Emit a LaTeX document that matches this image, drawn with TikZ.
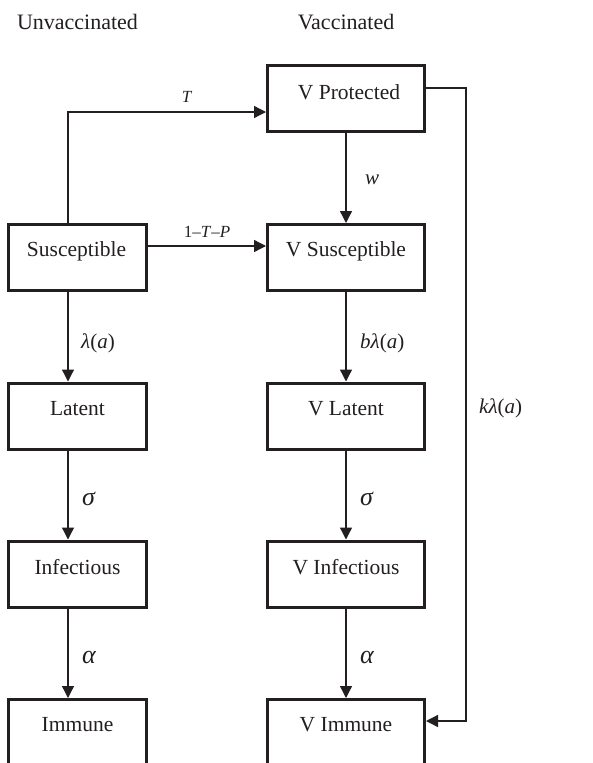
\documentclass[tikz,border=0pt]{standalone}
\usepackage{fontspec}
\setmainfont{Liberation Serif}
\usetikzlibrary{arrows.meta}
\definecolor{ink}{HTML}{231F20}
\begin{document}
\begin{tikzpicture}[x=1pt,y=-1pt,
  box/.style={draw=ink, line width=3pt, minimum width=#1, minimum height=66pt, inner sep=0pt},
  boxtext/.style={font=\fontsize{21.5}{24}\selectfont, text=ink, inner sep=0pt},
  head/.style={font=\fontsize{22}{24}\selectfont, text=ink, inner sep=0pt},
  small/.style={font=\fontsize{17}{20}\selectfont, text=ink, inner sep=0pt},
  greek/.style={font=\fontsize{21}{24}\selectfont, text=ink, inner sep=0pt, anchor=west},
  biggreek/.style={font=\fontsize{26}{28}\selectfont, text=ink, inner sep=0pt, anchor=west},
  arr/.style={draw=ink, line width=1.3pt, -{Triangle[length=12pt,width=12pt]}}]
\clip (0,0) rectangle (593,763);
\fill[white] (0,0) rectangle (593,763);

% headers
\node[head] (hU) at (77.5,22) {Unvaccinated};
\node[head] (hV) at (346,22) {Vaccinated};

% left column
\node[box=138pt] (S) at (77.5,257.5) {};
\node[box=138pt] (L) at (77.5,416) {};
\node[box=138pt] (I) at (77.5,574) {};
\node[box=138pt] (R) at (77.5,732.5) {};
% right column
\node[box=157pt] (VP) at (346,98.5) {};
\node[box=157pt] (VS) at (346,257.5) {};
\node[box=157pt] (VL) at (346,416) {};
\node[box=157pt] (VI) at (346,574) {};
\node[box=157pt] (VR) at (346,732.5) {};

% box texts
\node[boxtext] (tS) at (76.5,251) {Susceptible};
\node[boxtext] (tL) at (77.5,409) {Latent};
\node[boxtext] (tI) at (77.5,567) {Infectious};
\node[boxtext] (tR) at (77.5,725) {Immune};
\node[boxtext] (tVP) at (349,92) {V Protected};
\node[boxtext] (tVS) at (346,251) {V Susceptible};
\node[boxtext] (tVL) at (346,409) {V Latent};
\node[boxtext] (tVI) at (346,567) {V Infectious};
\node[boxtext] (tVR) at (346,725) {V Immune};

% helper coordinates
\coordinate (xL) at (68,0);
\coordinate (tY) at (0,112);
\coordinate (pY) at (0,246);
\coordinate (k1) at (466,88);
\coordinate (k2) at (466,721);

% connectors
\draw[arr] (S.north -| xL) |- (VP.west |- tY);
\draw[arr] (S.east |- pY) -- (VS.west |- pY);
\draw[arr] (VP.south) -- (VS.north);
\draw[arr] (S.south -| xL) -- (L.north -| xL);
\draw[arr] (L.south -| xL) -- (I.north -| xL);
\draw[arr] (I.south -| xL) -- (R.north -| xL);
\draw[arr] (VS.south) -- (VL.north);
\draw[arr] (VL.south) -- (VI.north);
\draw[arr] (VI.south) -- (VR.north);
\draw[arr] (VP.east |- k1) -- (k1) -- (k2) -- (VI.east |- k2);

% labels
\node[small] (lT) at (187,97) {\textit{T}};
\node[small] (lP) at (207,232) {1–\textit{T}–\textit{P}};
\node[greek] (lw) at (365,180) {\textit{w}};
\node[greek] (l1) at (81,343) {\textit{λ}(\textit{a})};
\node[biggreek] (l2) at (82,499) {\textit{σ}};
\node[biggreek] (l3) at (82,657) {\textit{α}};
\node[greek] (l4) at (360,343) {\textit{bλ}(\textit{a})};
\node[biggreek] (l5) at (360,499) {\textit{σ}};
\node[biggreek] (l6) at (360,657) {\textit{α}};
\node[greek] (l7) at (479,408) {\textit{kλ}(\textit{a})};
\end{tikzpicture}
\end{document}
